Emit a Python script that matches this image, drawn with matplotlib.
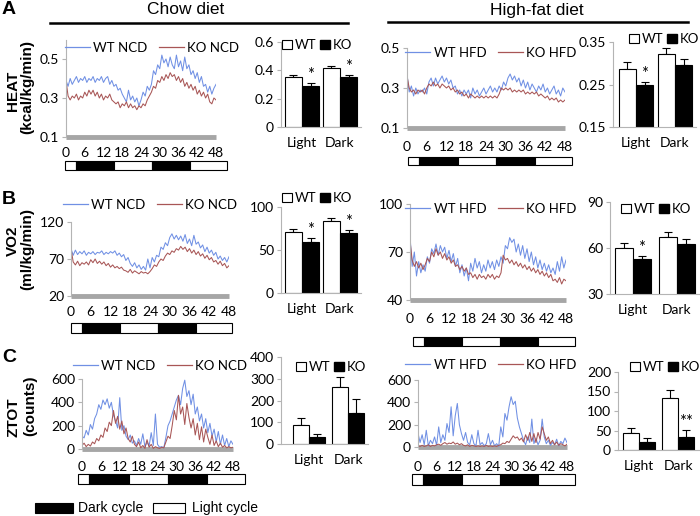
import matplotlib
matplotlib.use("Agg")
import matplotlib.pyplot as plt
import numpy as np
from matplotlib.lines import Line2D
from matplotlib.patches import Patch, Rectangle

plt.rcParams["font.family"] = ["Lato", "DejaVu Sans"]
plt.rcParams["font.size"] = 10

W, H = 700, 516
BLUE = "#7090e4"
RED = "#a85656"
GRAY = "#a6a6a6"
SPINE = "#b4b4b4"
ARIAL = ["Liberation Sans", "DejaVu Sans"]

# time axis: one reading every 40 min over 48 h
HOURS = np.linspace(0, 48, 73)
XTICKS = list(range(0, 49, 6))
# light/dark schedule bar, in hours (light, dark, light, dark, light)
LD_EDGES = [0, 3.5, 15.5, 27.5, 39.5, 51]
LD_DARK = [False, True, False, True, False]

# ---- HEAT (kcal/kg/min)
heat_wt_ncd = [0.39, 0.36, 0.40, 0.37, 0.39, 0.41, 0.38, 0.40, 0.39, 0.41, 0.38, 0.40, 0.39,
               0.41, 0.38, 0.40, 0.39, 0.41, 0.38, 0.40, 0.41, 0.37, 0.39, 0.36, 0.37,
               0.34, 0.35, 0.32, 0.30, 0.28, 0.34, 0.29, 0.31, 0.28, 0.30, 0.26, 0.29,
               0.33, 0.31, 0.36, 0.34, 0.37, 0.44, 0.42, 0.47, 0.45, 0.52, 0.48, 0.50,
               0.46, 0.51, 0.47, 0.45, 0.52, 0.46, 0.49, 0.44, 0.51, 0.45, 0.47, 0.42,
               0.44, 0.40, 0.43, 0.38, 0.41, 0.36, 0.37, 0.33, 0.36, 0.32, 0.35, 0.37]
heat_ko_ncd = [0.39, 0.31, 0.29, 0.31, 0.30, 0.32, 0.29, 0.31, 0.30, 0.33, 0.31, 0.34, 0.32,
               0.34, 0.31, 0.33, 0.30, 0.32, 0.29, 0.31, 0.30, 0.32, 0.29, 0.28, 0.27,
               0.28, 0.25, 0.27, 0.26, 0.28, 0.25, 0.27, 0.25, 0.26, 0.24, 0.26, 0.25,
               0.27, 0.26, 0.29, 0.31, 0.33, 0.36, 0.35, 0.39, 0.38, 0.41, 0.39, 0.42,
               0.40, 0.43, 0.41, 0.42, 0.39, 0.41, 0.38, 0.40, 0.36, 0.38, 0.35, 0.37,
               0.34, 0.36, 0.32, 0.34, 0.31, 0.33, 0.30, 0.32, 0.28, 0.27, 0.30, 0.29]
heat_wt_hfd = [0.37, 0.28, 0.31, 0.26, 0.30, 0.27, 0.29, 0.28, 0.30, 0.27, 0.33, 0.35, 0.31,
               0.35, 0.32, 0.34, 0.36, 0.33, 0.35, 0.32, 0.34, 0.30, 0.31, 0.27, 0.29,
               0.26, 0.29, 0.27, 0.29, 0.25, 0.30, 0.27, 0.29, 0.26, 0.28, 0.30, 0.27,
               0.29, 0.31, 0.28, 0.30, 0.28, 0.31, 0.29, 0.33, 0.31, 0.35, 0.37, 0.34,
               0.36, 0.33, 0.35, 0.31, 0.34, 0.30, 0.33, 0.29, 0.32, 0.30, 0.28, 0.31,
               0.29, 0.32, 0.28, 0.30, 0.27, 0.29, 0.31, 0.27, 0.29, 0.26, 0.30, 0.28]
heat_ko_hfd = [0.36, 0.30, 0.28, 0.29, 0.27, 0.29, 0.28, 0.29, 0.27, 0.30, 0.32, 0.31, 0.33,
               0.31, 0.32, 0.30, 0.32, 0.31, 0.30, 0.31, 0.29, 0.30, 0.28, 0.29, 0.27,
               0.28, 0.26, 0.27, 0.25, 0.27, 0.26, 0.25, 0.26, 0.25, 0.26, 0.25, 0.26,
               0.25, 0.26, 0.25, 0.26, 0.25, 0.27, 0.30, 0.29, 0.30, 0.29, 0.30, 0.28,
               0.29, 0.28, 0.29, 0.28, 0.29, 0.27, 0.28, 0.27, 0.28, 0.27, 0.28, 0.26,
               0.27, 0.26, 0.25, 0.26, 0.24, 0.25, 0.24, 0.25, 0.23, 0.24, 0.23, 0.24]

# ---- VO2 (ml/kg/min)
vo2_wt_ncd = [84, 75, 82, 76, 80, 77, 81, 75, 79, 77, 80, 76, 79, 78, 81, 76, 79, 77, 80,
              78, 81, 75, 78, 73, 76, 68, 72, 64, 60, 65, 58, 62, 56, 60, 55, 70, 58,
              72, 66, 75, 73, 86, 83, 92, 88, 99, 104, 97, 102, 96, 101, 94, 103, 91, 97,
              88, 102, 90, 93, 85, 89, 80, 86, 78, 82, 75, 79, 70, 74, 68, 72, 66, 73]
vo2_ko_ncd = [84, 66, 62, 67, 61, 65, 63, 66, 62, 69, 65, 70, 64, 67, 63, 66, 61, 64, 59,
              62, 58, 60, 57, 59, 55, 54, 52, 56, 51, 54, 52, 50, 53, 51, 52, 50, 53,
              57, 62, 60, 66, 70, 68, 74, 78, 76, 81, 79, 84, 82, 87, 83, 86, 80, 84,
              78, 82, 76, 80, 74, 77, 71, 75, 69, 72, 66, 68, 63, 67, 61, 64, 58, 61]
vo2_wt_hfd = [80, 61, 70, 55, 64, 57, 62, 58, 67, 63, 72, 69, 75, 68, 74, 70, 73, 66, 71,
              64, 69, 61, 66, 57, 62, 55, 60, 52, 63, 58, 66, 60, 64, 57, 62, 58, 65,
              60, 64, 59, 65, 61, 67, 63, 74, 72, 79, 76, 78, 70, 75, 68, 74, 66, 72,
              64, 70, 62, 67, 60, 65, 59, 63, 58, 62, 57, 60, 56, 64, 58, 67, 60, 65]
vo2_ko_hfd = [77, 65, 61, 64, 60, 63, 59, 62, 66, 64, 70, 67, 72, 68, 70, 66, 69, 65, 67,
              63, 65, 61, 62, 59, 61, 58, 60, 56, 57, 54, 56, 53, 56, 54, 55, 53, 56,
              54, 56, 53, 55, 54, 57, 68, 65, 66, 63, 65, 62, 64, 61, 63, 60, 62, 59,
              61, 58, 60, 57, 59, 56, 58, 55, 57, 54, 56, 52, 53, 51, 54, 50, 53, 52]

# ---- ZTOT (counts)
ztot_wt_ncd = [110, 95, 160, 120, 210, 170, 260, 300, 380, 340, 420, 380, 430, 350, 400,
               290, 240, 180, 440, 160, 200, 110, 80, 120, 50, 70, 30, 90, 40, 130, 20,
               60, 25, 140, 30, 300, 40, 15, 20, 10, 100, 200, 240, 300, 360, 420, 460,
               380, 520, 590, 450, 500, 380, 470, 300, 360, 240, 300, 180, 260, 140, 220,
               110, 170, 60, 150, 40, 120, 30, 90, 20, 70, 40]
ztot_ko_ncd = [30, 50, 20, 40, 25, 60, 45, 90, 70, 120, 100, 180, 150, 230, 200, 330, 220,
               280, 170, 240, 130, 180, 90, 60, 110, 40, 20, 60, 10, 30, 5, 80, 15, 40, 5,
               20, 10, 5, 15, 10, 60, 110, 90, 200, 330, 250, 460, 300, 360, 210, 390,
               270, 180, 260, 120, 220, 80, 190, 60, 170, 100, 40, 120, 30, 70, 20, 50,
               15, 30, 10, 20, 10, 15]
ztot_wt_hfd = [125, 40, 110, 20, 150, 10, 60, 30, 90, 15, 180, 40, 110, 60, 210, 130, 360,
               100, 280, 390, 200, 120, 60, 130, 40, 20, 110, 30, 10, 150, 20, 40, 10, 30,
               120, 20, 60, 10, 30, 5, 180, 90, 300, 240, 360, 450, 380, 410, 260, 180,
               120, 60, 20, 90, 40, 250, 30, 80, 20, 60, 250, 90, 30, 60, 15, 40, 20, 70,
               10, 50, 30, 80, 40]
ztot_ko_hfd = [10, 5, 15, 5, 10, 20, 5, 15, 10, 20, 25, 15, 30, 40, 25, 35, 30, 45, 25, 35,
               20, 30, 15, 10, 20, 5, 15, 10, 5, 10, 5, 10, 5, 15, 5, 10, 5, 10, 5, 15,
               20, 35, 30, 50, 40, 70, 100, 80, 90, 60, 80, 45, 110, 60, 130, 50, 120, 40,
               130, 70, 180, 120, 60, 90, 30, 60, 20, 45, 15, 30, 20, 10, 25]

# ---- bar summaries: [Light, Dark]
CATS = ["Light", "Dark"]
heat_ncd_wt, heat_ncd_wt_err = [0.35, 0.42], [0.015, 0.012]
heat_ncd_ko, heat_ncd_ko_err = [0.29, 0.35], [0.022, 0.02]
heat_hfd_wt, heat_hfd_wt_err = [0.287, 0.322], [0.015, 0.015]
heat_hfd_ko, heat_hfd_ko_err = [0.25, 0.295], [0.007, 0.016]
vo2_ncd_wt, vo2_ncd_wt_err = [71, 84], [3, 3]
vo2_ncd_ko, vo2_ncd_ko_err = [59, 70], [4.5, 3]
vo2_hfd_wt, vo2_hfd_wt_err = [60, 67], [3, 3.3]
vo2_hfd_ko, vo2_hfd_ko_err = [53, 62.5], [1.5, 3.5]
ztot_ncd_wt, ztot_ncd_wt_err = [87, 262], [33, 46]
ztot_ncd_ko, ztot_ncd_ko_err = [32, 143], [14, 65]
ztot_hfd_wt, ztot_hfd_wt_err = [44, 133], [12, 21]
ztot_hfd_ko, ztot_hfd_ko_err = [21, 34], [9, 18]

fig = plt.figure(figsize=(W / 100, H / 100), dpi=100)


def px(x0, y0, x1, y1):
    return [x0 / W, 1 - y1 / H, (x1 - x0) / W, (y1 - y0) / H]


def fxy(x, y):
    return (x / W, 1 - y / H)


def line_panel(box, ylim, yticks, fmt, wt, ko, names, pad, leg):
    ax = fig.add_axes(px(*box))
    ax.plot(HOURS, wt, color=BLUE, lw=0.75)
    ax.plot(HOURS, ko, color=RED, lw=0.75)
    ax.plot([0, 48], [ylim[0], ylim[0]], color=GRAY, lw=3.5, solid_capstyle="butt",
            clip_on=False, zorder=0)
    ax.set_xlim(0, 48)
    ax.set_ylim(*ylim)
    for s in ("top", "right", "bottom"):
        ax.spines[s].set_visible(False)
    ax.spines["left"].set_color(SPINE)
    ax.set_xticks(XTICKS)
    ax.tick_params(axis="x", length=0, pad=pad)
    ax.set_yticks(yticks)
    ax.set_yticklabels([fmt.format(v) for v in yticks])
    ax.tick_params(axis="y", length=3, color=SPINE, pad=2)
    ax.patch.set_visible(False)
    handles = [Line2D([], [], color=BLUE, lw=0.9), Line2D([], [], color=RED, lw=0.9)]
    ax.legend(handles, names, ncol=2, loc="center", bbox_to_anchor=fxy(*leg),
              bbox_transform=fig.transFigure, frameon=False, handlelength=1.9,
              handletextpad=0.25, columnspacing=0.9, borderpad=0, fontsize=9.5)
    return ax


def ld_bar(box):
    ax = fig.add_axes(px(*box))
    for a, b, dark in zip(LD_EDGES[:-1], LD_EDGES[1:], LD_DARK):
        ax.add_patch(Rectangle((a, 0), b - a, 1, facecolor="black" if dark else "white",
                               edgecolor="black", lw=0.8, clip_on=False))
    ax.set_xlim(LD_EDGES[0], LD_EDGES[-1])
    ax.set_ylim(0, 1)
    ax.axis("off")


def bar_panel(box, xlim, ylim, yticks, fmt, wt, wt_err, ko, ko_err, stars, width, leg):
    ax = fig.add_axes(px(*box))
    x = np.arange(len(CATS))
    ax.bar(x - width / 2, wt, width, color="white", edgecolor="black", lw=0.8, zorder=2)
    ax.bar(x + width / 2, ko, width, color="black", edgecolor="black", lw=0.8, zorder=2)
    z = np.zeros(len(CATS))
    ax.errorbar(x - width / 2, wt, yerr=[z, wt_err], fmt="none", ecolor="black",
                elinewidth=0.8, capsize=3, capthick=0.8, zorder=1)
    ax.errorbar(x + width / 2, ko, yerr=[z, ko_err], fmt="none", ecolor="black",
                elinewidth=0.8, capsize=3, capthick=0.8, zorder=1)
    for xi, v, e, s in zip(x, ko, ko_err, stars):
        if s:
            ax.annotate(s, (xi + width / 2, v + e), xytext=(0, 0), textcoords="offset points",
                        ha="center", va="bottom", fontsize=12)
    ax.set_xlim(*xlim)
    ax.set_ylim(*ylim)
    for s in ("top", "right"):
        ax.spines[s].set_visible(False)
    ax.spines["left"].set_color(SPINE)
    ax.spines["bottom"].set_color(SPINE)
    ax.set_xticks(x)
    ax.set_xticklabels(CATS)
    ax.tick_params(axis="x", length=0, pad=7)
    ax.set_yticks(yticks)
    ax.set_yticklabels([fmt.format(v) for v in yticks])
    ax.tick_params(axis="y", length=3, color=SPINE, pad=2)
    ax.patch.set_visible(False)
    handles = [Patch(facecolor="white", edgecolor="black", lw=0.8),
               Patch(facecolor="black", edgecolor="black")]
    ax.legend(handles, ["WT", "KO"], ncol=2, loc="center", bbox_to_anchor=fxy(*leg),
              bbox_transform=fig.transFigure, frameon=False, handlelength=0.75,
              handleheight=0.75, handletextpad=0.2, columnspacing=0.25, borderpad=0,
              fontsize=9.5)
    return ax


# ---------------- row A: HEAT
line_panel((66, 39.5, 216, 137), (0.1, 0.6), [0.1, 0.3, 0.5], "{:.1f}",
           heat_wt_ncd, heat_ko_ncd, ["WT NCD", "KO NCD"], 7, (152, 48))
ld_bar((65, 161, 227, 170))
bar_panel((281, 42, 361, 127), (-0.55, 1.55), (0, 0.6), [0, 0.2, 0.4, 0.6], "{:g}",
          heat_ncd_wt, heat_ncd_wt_err, heat_ncd_ko, heat_ncd_ko_err, ["*", "*"], 0.45,
          (317, 45))
line_panel((407, 48, 565, 128), (0.1, 0.5), [0.1, 0.3, 0.5], "{:.1f}",
           heat_wt_hfd, heat_ko_hfd, ["WT HFD", "KO HFD"], 9.5, (491, 53))
ld_bar((408, 157, 572, 165))
bar_panel((613, 42, 696, 127), (-0.59, 1.54), (0.15, 0.35), [0.15, 0.25, 0.35], "{:.2f}",
          heat_hfd_wt, heat_hfd_wt_err, heat_hfd_ko, heat_hfd_ko_err, ["*", ""], 0.44,
          (664, 39))

# ---------------- row B: VO2
line_panel((71, 222, 229, 296), (20, 120), [20, 70, 120], "{:g}",
           vo2_wt_ncd, vo2_ko_ncd, ["WT NCD", "KO NCD"], 7, (150, 205))
ld_bar((71, 323, 232, 333))
bar_panel((281, 207, 361, 293), (-0.55, 1.55), (0, 100), [0, 50, 100], "{:g}",
          vo2_ncd_wt, vo2_ncd_wt_err, vo2_ncd_ko, vo2_ncd_ko_err, ["*", "*"], 0.45,
          (317, 198))
line_panel((410, 204, 566, 300), (40, 100), [40, 70, 100], "{:g}",
           vo2_wt_hfd, vo2_ko_hfd, ["WT HFD", "KO HFD"], 9.5, (491, 209))
ld_bar((413, 337, 575, 346))
bar_panel((610, 202, 699, 294), (-0.52, 1.5), (30, 90), [30, 60, 90], "{:g}",
          vo2_hfd_wt, vo2_hfd_wt_err, vo2_hfd_ko, vo2_hfd_ko_err, ["*", ""], 0.41,
          (656, 209))

# ---------------- row C: ZTOT
line_panel((82, 379, 233, 449), (0, 600), [0, 200, 400, 600], "{:g}",
           ztot_wt_ncd, ztot_ko_ncd, ["WT NCD", "KO NCD"], 8.5, (160, 366))
ld_bar((78, 474, 245, 484))
bar_panel((281, 357, 368, 444), (-0.72, 1.51), (0, 400), [0, 100, 200, 300, 400], "{:g}",
          ztot_ncd_wt, ztot_ncd_wt_err, ztot_ncd_ko, ztot_ncd_ko_err, ["", ""], 0.41,
          (331, 367))
line_panel((418, 380, 567, 447), (0, 600), [0, 200, 400, 600], "{:g}",
           ztot_wt_hfd, ztot_ko_hfd, ["WT HFD", "KO HFD"], 10, (491, 365))
ld_bar((412, 474, 575, 485))
bar_panel((618, 372, 700, 450), (-0.54, 1.56), (0, 200), [0, 50, 100, 150, 200], "{:g}",
          ztot_hfd_wt, ztot_hfd_wt_err, ztot_hfd_ko, ztot_hfd_ko_err, ["", "**"], 0.41,
          (665, 367))

# ---------------- headers, axis titles, panel letters
fig.text(*fxy(186, 10), "Chow diet", ha="center", va="center", fontsize=12.5, family=ARIAL)
fig.text(*fxy(537, 10), "High-fat diet", ha="center", va="center", fontsize=12.5,
         family=ARIAL)
fig.add_artist(Line2D([50 / W, 348 / W], [1 - 23 / H] * 2, color="black", lw=1.8))
fig.add_artist(Line2D([388 / W, 688 / W], [1 - 22 / H] * 2, color="black", lw=1.8))

for letter, y in (("A", 10), ("B", 199), ("C", 358)):
    fig.text(*fxy(9, y), letter, ha="center", va="center", fontsize=14, weight="bold",
             family=ARIAL)

for name, unit, y1, y2, x2 in (("HEAT", "(kcal/kg/min)", 91, 87, 27),
                               ("VO2", "(ml/kg/min)", 241, 249, 27),
                               ("ZTOT", "(counts)", 417, 406, 30)):
    fig.text(*fxy(13, y1), name, rotation=90, ha="center", va="center", fontsize=11,
             weight="bold", family=ARIAL)
    fig.text(*fxy(x2, y2), unit, rotation=90, ha="center", va="center", fontsize=11,
             weight="bold", family=ARIAL)

# bottom key
fig.add_artist(Rectangle(fxy(35, 513), 38 / W, 10 / H, transform=fig.transFigure,
                         facecolor="black", edgecolor="black", lw=0.8))
fig.text(*fxy(78, 508), "Dark cycle", ha="left", va="center", fontsize=10, family=ARIAL)
fig.add_artist(Rectangle(fxy(153, 513), 32 / W, 10 / H, transform=fig.transFigure,
                         facecolor="white", edgecolor="black", lw=0.8))
fig.text(*fxy(192, 508), "Light cycle", ha="left", va="center", fontsize=10, family=ARIAL)

fig.savefig("out.png", dpi=100)
